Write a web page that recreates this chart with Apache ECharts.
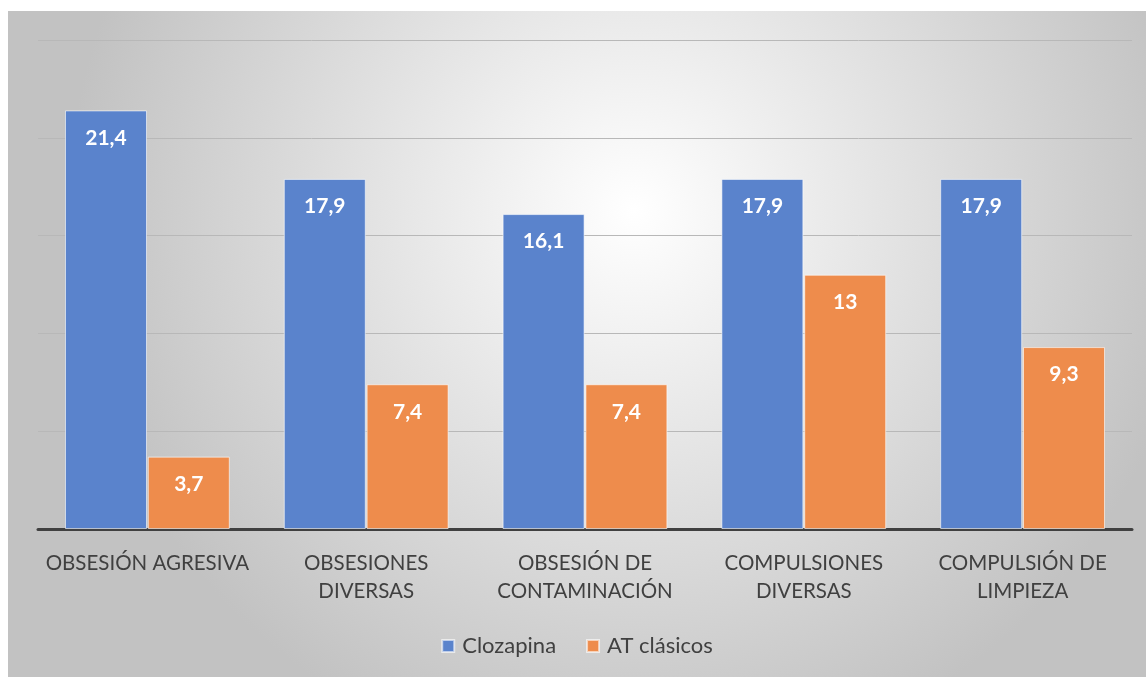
<!DOCTYPE html>
<html>
<head>
<meta charset="utf-8">
<script src="https://cdn.jsdelivr.net/npm/echarts@6/dist/echarts.min.js"></script>
<style>
html,body{margin:0;padding:0;background:#fff;width:1146px;height:677px;overflow:hidden;}
#chart{position:absolute;left:8px;top:11px;width:1138px;height:666px;}
</style>
</head>
<body>
<div id="chart"></div>
<script>
const categories = ['OBSESIÓN AGRESIVA', 'OBSESIONES\nDIVERSAS', 'OBSESIÓN DE\nCONTAMINACIÓN', 'COMPULSIONES\nDIVERSAS', 'COMPULSIÓN DE\nLIMPIEZA'];
const clozapina = [21.4, 17.9, 16.1, 17.9, 17.9];
const atClasicos = [3.7, 7.4, 7.4, 13, 9.3];
const seriesNames = ['Clozapina', 'AT clásicos'];

const chart = echarts.init(document.getElementById('chart'));
const FONT = 'Lato, "Open Sans", sans-serif';
const labelCfg = {
  show: true, position: 'insideTop', distance: 17,
  color: '#ffffff', fontWeight: 'bold', fontSize: 21, fontFamily: FONT,
  formatter: p => String(p.value).replace('.', ',')
};
chart.setOption({
  backgroundColor: {
    type: 'radial', x: 0.55, y: 0.3, r: 0.85,
    colorStops: [{offset: 0, color: '#ffffff'}, {offset: 1, color: '#c2c2c2'}]
  },
  animation: false,
  grid: {left: 30, right: 14, top: 29, bottom: 148},
  legend: {
    data: seriesNames, bottom: 15, left: 'center', icon: 'rect',
    itemWidth: 12, itemHeight: 12, itemGap: 30,
    textStyle: {color: '#404040', fontSize: 22, fontFamily: FONT, padding: [0, 0, 0, 3]}
  },
  xAxis: {
    type: 'category', data: categories,
    axisLine: {lineStyle: {color: '#404040', width: 3}},
    axisTick: {show: false},
    axisLabel: {color: '#404040', fontSize: 20.5, fontFamily: FONT, lineHeight: 28, margin: 20, interval: 0}
  },
  yAxis: {
    type: 'value', min: 0, max: 25, interval: 5,
    axisLabel: {show: false}, axisLine: {show: false}, axisTick: {show: false},
    splitLine: {lineStyle: {color: '#b8b8b8', width: 1}}
  },
  series: [
    {name: seriesNames[0], type: 'bar', data: clozapina, barWidth: 82, barGap: '1%',
     itemStyle: {color: '#5a83cc', borderColor: 'rgba(255,255,255,0.6)', borderWidth: 1}, label: labelCfg},
    {name: seriesNames[1], type: 'bar', data: atClasicos, barWidth: 82,
     itemStyle: {color: '#ee8c4c', borderColor: 'rgba(255,255,255,0.6)', borderWidth: 1}, label: labelCfg}
  ]
});
</script>
</body>
</html>
